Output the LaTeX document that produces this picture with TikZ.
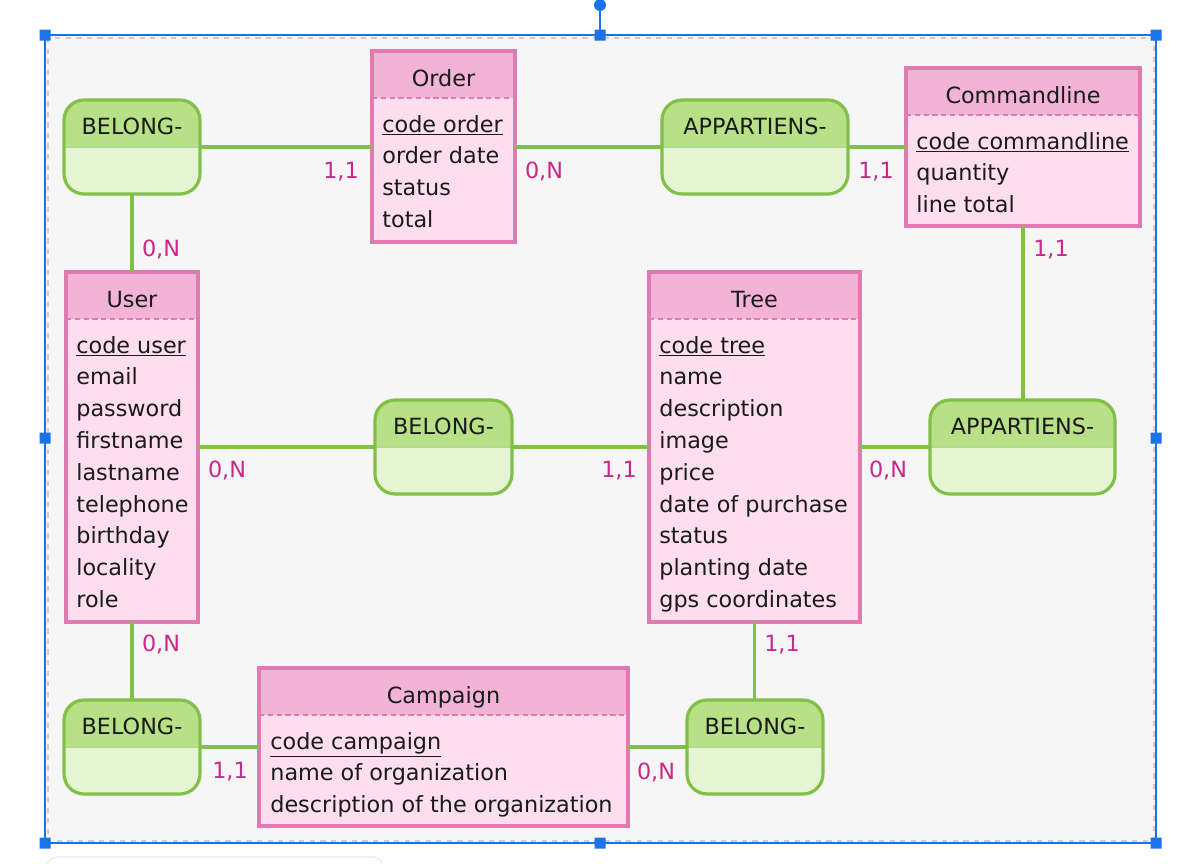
\documentclass[tikz,border=0pt]{standalone}
\usepackage{fontspec}
\setmainfont{DejaVu Sans}
\definecolor{entLine}{HTML}{E07BB2}
\definecolor{entHead}{HTML}{F2B3D7}
\definecolor{entBody}{HTML}{FDDEEE}
\definecolor{relLine}{HTML}{80C046}
\definecolor{relHead}{HTML}{B8E086}
\definecolor{relBody}{HTML}{E5F4D3}
\definecolor{cardCol}{HTML}{C8288A}
\definecolor{pageBg}{HTML}{F6F6F6}
\definecolor{selBlue}{HTML}{1A73E8}
\definecolor{txt}{HTML}{1A1A1A}
\begin{document}
\begin{tikzpicture}[x=0.02cm,y=-0.02cm,
  every node/.style={font=\fontsize{12.7}{15}\selectfont,text=txt},
  ent/.style={draw=entLine,fill=entBody,line width=1.8pt,inner sep=0pt,outer sep=0pt,anchor=north west,
    path picture={\fill[entHead] (path picture bounding box.north west) rectangle ([shift={(0,47)}]path picture bounding box.north east);
      \draw[entLine,densely dashed,line width=.6pt] ([shift={(0,47)}]path picture bounding box.north west) -- ([shift={(0,47)}]path picture bounding box.north east);}},
  rel/.style={draw=relLine,fill=relBody,line width=1.8pt,rounded corners=0.4cm,minimum height=1.88cm,inner sep=0pt,outer sep=0pt,anchor=north west,
    path picture={\fill[relHead,sharp corners] (path picture bounding box.north west) rectangle (path picture bounding box.east);
      \draw[relLine!60,line width=.6pt,sharp corners] (path picture bounding box.west) -- (path picture bounding box.east);}},
  enttitle/.style={anchor=base,inner sep=0pt},
  attr/.style={anchor=base west,inner sep=0pt},
  card/.style={text=cardCol,inner sep=0pt},
  link/.style={draw=relLine,line width=1.8pt}]
\useasboundingbox (0,0) rectangle (1186,863);
%page and selection
\fill[pageBg] (45,35) rectangle (1156,843);
\draw[black!20,dashed,line width=.6pt] (48,38) rectangle (1154,841);
\draw[black!8,line width=.6pt,rounded corners=0.2cm] (47,857) rectangle (383,890);
\draw[selBlue,line width=.6pt] (45,35) rectangle (1156,843);
\draw[selBlue,line width=1.2pt] (600,5) -- (600,35);
\fill[selBlue] (600,5) circle (3.4pt);
\fill[selBlue] \foreach \p in {(45,35),(600,35),(1156,35),(45,438),(1156,438),(45,843),(600,843),(1156,843)} {\p ++(-5.5,-5.5) rectangle ++(11,11)};
%entities
\node[ent,minimum width=2.86cm,minimum height=3.82cm] (order) at (372,51) {};
\node[enttitle] (order-t) at ([shift={(0,35)}]order.north) {Order};
\foreach \a [count=\i from 0] in {\underline{code order},order date,status,total}
  \node[attr] (order-\i) at ([shift={(10,81+31.8*\i)}]order.north west) {\a};
\node[ent,minimum width=4.68cm,minimum height=3.16cm] (cmdline) at (906,68) {};
\node[enttitle] (cmdline-t) at ([shift={(0,35)}]cmdline.north) {Commandline};
\foreach \a [count=\i from 0] in {\underline{code commandline},quantity,line total}
  \node[attr] (cmdline-\i) at ([shift={(10,81+31.8*\i)}]cmdline.north west) {\a};
\node[ent,minimum width=2.64cm,minimum height=7.0cm] (user) at (66,272) {};
\node[enttitle] (user-t) at ([shift={(0,35)}]user.north) {User};
\foreach \a [count=\i from 0] in {\underline{code user},email,password,firstname,lastname,telephone,birthday,locality,role}
  \node[attr] (user-\i) at ([shift={(10,81+31.8*\i)}]user.north west) {\a};
\node[ent,minimum width=4.22cm,minimum height=7.0cm] (tree) at (649,272) {};
\node[enttitle] (tree-t) at ([shift={(0,35)}]tree.north) {Tree};
\foreach \a [count=\i from 0] in {\underline{code tree},name,description,image,price,date of purchase,status,planting date,gps coordinates}
  \node[attr] (tree-\i) at ([shift={(10,81+31.8*\i)}]tree.north west) {\a};
\node[ent,minimum width=7.38cm,minimum height=3.16cm] (campaign) at (259,668) {};
\node[enttitle] (campaign-t) at ([shift={(0,35)}]campaign.north) {Campaign};
\foreach \a [count=\i from 0] in {\underline{code campaign},name of organization,description of the organization}
  \node[attr] (campaign-\i) at ([shift={(11,81+31.8*\i)}]campaign.north west) {\a};
%relations
\node[rel,minimum width=2.72cm] (relOrdUser) at (64,100) {};
\node[rel,minimum width=3.72cm] (relOrdCmd) at (662,100) {};
\node[rel,minimum width=2.74cm] (relUserTree) at (375,400) {};
\node[rel,minimum width=3.70cm] (relTreeCmd) at (930,400) {};
\node[rel,minimum width=2.72cm] (relUserCamp) at (64,700) {};
\node[rel,minimum width=2.72cm] (relTreeCamp) at (687,700) {};
\foreach \r/\t in {relOrdUser/BELONG-,relOrdCmd/APPARTIENS-,relUserTree/BELONG-,relTreeCmd/APPARTIENS-,relUserCamp/BELONG-,relTreeCamp/BELONG-}
  \node[enttitle] (\r-t) at ([shift={(0,34)}]\r.north) {\t};
%links
\draw[link] (relOrdUser.east) -- (relOrdUser.east -| order.west);
\draw[link] (order.east |- relOrdCmd.west) -- (relOrdCmd.west);
\draw[link] (relOrdCmd.east) -- (relOrdCmd.east -| cmdline.west);
\draw[link] (relOrdUser.south) -- (relOrdUser.south |- user.north);
\draw[link] (cmdline.south) -- (cmdline.south |- relTreeCmd.north);
\draw[link] (user.east |- relUserTree.west) -- (relUserTree.west);
\draw[link] (relUserTree.east) -- (relUserTree.east -| tree.west);
\draw[link] (tree.east |- relTreeCmd.west) -- (relTreeCmd.west);
\draw[link] (user.south) -- (user.south |- relUserCamp.north);
\draw[link] (tree.south) -- (tree.south |- relTreeCamp.north);
\draw[link] (relUserCamp.east) -- (relUserCamp.east -| campaign.west);
\draw[link] (campaign.east |- relTreeCamp.west) -- (relTreeCamp.west);
%cardinalities
\node[card] (c-ordUser) at (341,172) {1,1};
\node[card] (c-ordCmd) at (544,172) {0,N};
\node[card] (c-cmdOrd) at (876,172) {1,1};
\node[card] (c-userOrd) at (161,250) {0,N};
\node[card] (c-cmdTree) at (1051,250) {1,1};
\node[card] (c-userTree) at (227,471) {0,N};
\node[card] (c-treeUser) at (619,471) {1,1};
\node[card] (c-treeCmd) at (888,471) {0,N};
\node[card] (c-userCamp) at (161,645) {0,N};
\node[card] (c-treeCamp) at (782,645) {1,1};
\node[card] (c-campUser) at (230,772) {1,1};
\node[card] (c-campTree) at (656,772) {0,N};
\end{tikzpicture}
\end{document}
